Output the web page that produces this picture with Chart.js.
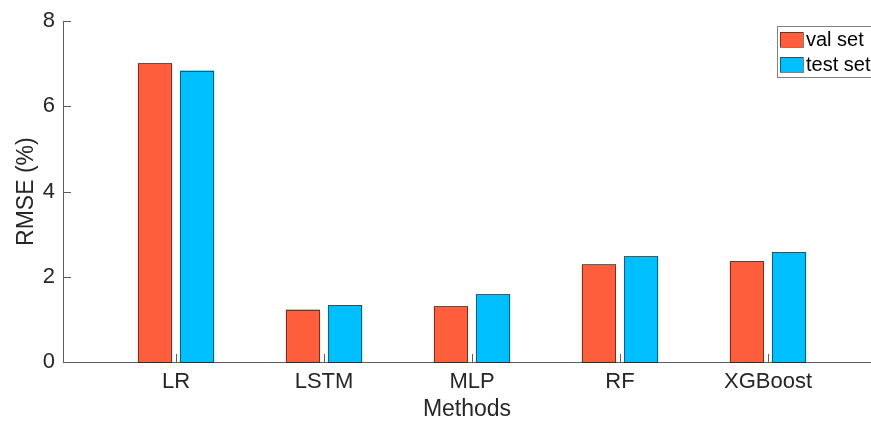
<!DOCTYPE html>
<html>
<head>
<meta charset="utf-8">
<title>RMSE by method</title>
<script src="https://cdn.jsdelivr.net/npm/chart.js@4.4.1/dist/chart.umd.min.js"></script>
<style>
  html, body { margin: 0; padding: 0; background: #fff; }
  canvas { display: block; }
</style>
</head>
<body>
<canvas id="rmseChart" width="871" height="421"></canvas>
<script>
// data
const methods = ['LR', 'LSTM', 'MLP', 'RF', 'XGBoost'];
const valSet = [7.01, 1.23, 1.31, 2.29, 2.37];
const testSet = [6.84, 1.34, 1.59, 2.48, 2.58];
const yTicks = [0, 2, 4, 6, 8];
const seriesNames = ['val set', 'test set'];
const seriesColors = ['#FF5E3C', '#00BFFF'];

const FONT = "'Liberation Sans', Arial, Helvetica, sans-serif";
const TEXT = '#262626';
const AXIS = '#5c5c5c';

// dotted outline around a rect, like the matlab ':' edge style
function dottedRect(ctx, x0, y0, x1, y1) {
    ctx.save();
    ctx.strokeStyle = '#000';
    ctx.lineWidth = 1;
    ctx.setLineDash([1, 1]);
    ctx.strokeRect(Math.round(x0) + 0.5, Math.round(y0) + 0.5,
        Math.round(x1 - x0) - 1, Math.round(y1 - y0));
    ctx.restore();
}

// bar edges, inward tick marks and the boxed legend
const matlabLook = {
    id: 'matlabLook',
    afterDatasetsDraw(chart) {
        const ctx = chart.ctx;
        chart.data.datasets.forEach((ds, di) => {
            chart.getDatasetMeta(di).data.forEach(bar => {
                const p = bar.getProps(['x', 'y', 'base', 'width'], true);
                dottedRect(ctx, p.x - p.width / 2, p.y, p.x + p.width / 2, p.base);
            });
        });
    },
    afterDraw(chart) {
        const ctx = chart.ctx;
        const xs = chart.scales.x, ys = chart.scales.y;
        const area = chart.chartArea;

        ctx.save();
        ctx.strokeStyle = AXIS;
        ctx.lineWidth = 1;
        ctx.beginPath();
        yTicks.forEach(v => {
            const py = Math.round(ys.getPixelForValue(v)) + 0.5;
            ctx.moveTo(area.left, py);
            ctx.lineTo(area.left + 8, py);
        });
        methods.forEach((m, i) => {
            const px = Math.round(xs.getPixelForValue(i + 1)) + 0.5;
            ctx.moveTo(px, area.bottom);
            ctx.lineTo(px, area.bottom - 8);
        });
        ctx.stroke();

        // legend
        const lx = 777, ly = 26;
        ctx.fillStyle = '#fff';
        ctx.fillRect(lx, ly, 110, 51);
        ctx.strokeStyle = '#808080';
        ctx.strokeRect(lx + 0.5, ly + 0.5, 110, 51);
        ctx.font = '20px ' + FONT;
        ctx.textBaseline = 'middle';
        seriesNames.forEach((name, i) => {
            const sy = ly + 6 + i * 25;
            ctx.fillStyle = seriesColors[i];
            ctx.fillRect(lx + 3, sy, 23, 15);
            dottedRect(ctx, lx + 3, sy, lx + 27, sy + 15);
            ctx.fillStyle = '#000';
            ctx.fillText(name, lx + 29, sy + 8);
        });
        ctx.restore();
    }
};

new Chart(document.getElementById('rmseChart'), {
    type: 'bar',
    data: {
        datasets: seriesNames.map((name, i) => ({
            label: name,
            data: (i === 0 ? valSet : testSet).map((v, j) => ({ x: j + 1, y: v })),
            backgroundColor: seriesColors[i],
            borderWidth: 0,
            categoryPercentage: 0.57,
            barPercentage: 0.81
        }))
    },
    options: {
        responsive: false,
        animation: false,
        devicePixelRatio: 1,
        layout: { padding: { top: 20, right: 0, bottom: 0, left: 0 } },
        plugins: {
            legend: { display: false },
            tooltip: { enabled: false }
        },
        scales: {
            x: {
                type: 'linear',
                min: 0.236,
                max: 5.696,
                offset: false,
                grid: { display: false, drawTicks: false },
                border: { display: true, color: AXIS, width: 1 },
                afterBuildTicks: s => { s.ticks = methods.map((m, i) => ({ value: i + 1 })); },
                afterFit: s => { s.height = 59; },
                ticks: {
                    autoSkip: false,
                    maxRotation: 0,
                    padding: 7,
                    color: TEXT,
                    font: { family: FONT, size: 22 },
                    callback: v => methods[v - 1] || ''
                },
                title: {
                    display: true,
                    text: 'Methods',
                    color: TEXT,
                    font: { family: FONT, size: 23, lineHeight: 1 },
                    padding: { top: 0, bottom: 0 }
                }
            },
            y: {
                min: 0,
                max: 8,
                grid: { display: false, drawTicks: false },
                border: { display: true, color: AXIS, width: 1 },
                afterBuildTicks: s => { s.ticks = yTicks.map(v => ({ value: v })); },
                afterFit: s => { s.width = 63; },
                ticks: {
                    padding: 8,
                    color: TEXT,
                    font: { family: FONT, size: 22 }
                },
                title: {
                    display: true,
                    text: 'RMSE (%)',
                    color: TEXT,
                    font: { family: FONT, size: 23, lineHeight: 1 },
                    padding: { top: 15, bottom: 0 }
                }
            }
        }
    },
    plugins: [matlabLook]
});
</script>
</body>
</html>
